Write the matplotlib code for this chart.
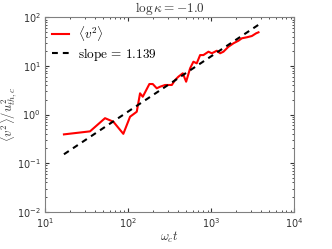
import numpy as np
import matplotlib
matplotlib.use("Agg")
import matplotlib.pyplot as plt

plt.rcParams["mathtext.fontset"] = "cm"

# <v^2> vs omega_c t
t = [16.9, 34.8, 52.7, 66.4, 87.5, 105.4, 126.9, 139, 149.9, 180, 197.7, 220.8,
     242, 278, 335, 367, 402, 454, 498, 556, 609, 668, 733, 803, 923, 1014,
     1164, 1276, 1399, 1607, 1846, 2120, 2329, 2675, 3072, 3459, 3690]
v2 = [0.39, 0.45, 0.84, 0.71, 0.40, 0.90, 1.14, 2.73, 2.32, 4.24, 4.24, 3.46,
      3.73, 4.05, 4.05, 5.13, 6.0, 7.05, 4.73, 8.93, 12.2, 11.3, 16.7, 16.7,
      19.6, 18.2, 20.5, 18.2, 19.6, 24.8, 29.2, 33.0, 37.0, 38.8, 41.2, 46.9, 49.1]

# power-law fit
slope = 1.139
log_amp = -2.217

t = np.array(t)
fit = 10 ** log_amp * t ** slope

fig = plt.figure(figsize=(3.32, 2.49), dpi=100)
ax = fig.add_axes([0.1355, 0.1498, 0.7515, 0.7807])

ax.plot(t, v2, color="red", lw=1.5, label=r"$\langle v^2\rangle$")
ax.plot(t, fit, color="black", lw=1.5, ls=(0, (2.8, 2.4)),
        label=r"$\mathrm{slope}\,=\,%.3f$" % slope)

ax.set_xscale("log")
ax.set_yscale("log")
ax.set_xlim(1e1, 1e4)
ax.set_ylim(1e-2, 1e2)

grey = "#808080"
for s in ax.spines.values():
    s.set_color(grey)
    s.set_linewidth(0.8)
ax.tick_params(which="both", direction="in", top=True, right=True, color="#333333",
               labelsize=7, labelcolor="#333333")
ax.tick_params(which="major", length=3, pad=3)
ax.tick_params(which="minor", length=1.5)
for lab in ax.get_xticklabels() + ax.get_yticklabels():
    lab.set_math_fontfamily("dejavusans")

ax.set_xlabel(r"$\omega_c t$", fontsize=9, color="#333333", labelpad=0)
ax.set_ylabel(r"$\langle v^2\rangle / u_{th,c}^2$", fontsize=9, color="#333333", labelpad=-2)
ax.set_title(r"$\log\kappa = -1.0$", fontsize=9.5, pad=4, color="#333333")

ax.legend(loc="upper left", frameon=False, fontsize=9.5, handlelength=1.3,
          borderaxespad=0.3, borderpad=0.2, handletextpad=0.7, labelspacing=0.2)

fig.savefig("out.png", dpi=100)
